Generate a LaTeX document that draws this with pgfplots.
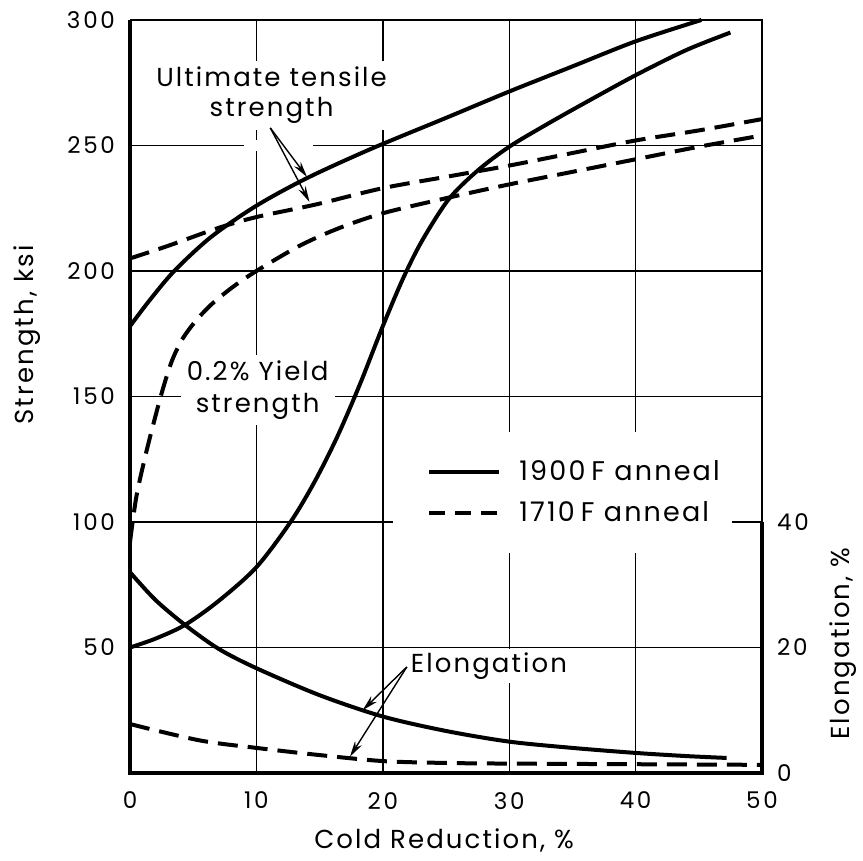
\documentclass[border=0pt]{standalone}
\usepackage{fontspec}
\setmainfont{Poppins}
\newfontfamily\tickfont[LetterSpace=12]{Poppins}
\newfontfamily\labfont[LetterSpace=8]{Poppins}
\usepackage{pgfplots}
\pgfplotsset{compat=1.18}
\usetikzlibrary{arrows.meta}
\tikzset{callout/.style={line width=0.7pt, -{Stealth[length=8pt,width=4pt]}}}

\begin{document}
\begin{tikzpicture}
\pgfplotsset{
  every axis/.append style={
    width=316pt, height=376.5pt, scale only axis,
    xmin=0, xmax=50,
    axis line style={draw=none},
    major tick length=0pt,
    /pgf/number format/assume math mode=true,
    tick label style={font=\tickfont\fontsize{11.5}{13}\selectfont},
    label style={font=\labfont\fontsize{13}{15}\selectfont},
  },
  curve/.style={line width=2pt, smooth, black},
  dashcurve/.style={curve, dash pattern=on 10pt off 5pt},
}
\begin{axis}[
    name=main,
    ymin=0, ymax=300,
    clip=false,
    xtick={0,10,...,50},
    ytick={50,100,...,300},
    grid=major,
    grid style={line width=0.7pt, black},
    xticklabel style={yshift=-6pt},
    yticklabel style={xshift=-4pt},
    xlabel={Cold Reduction, \%},
    xlabel style={at={(axis description cs:0.497,-0.089)}, anchor=center},
    ylabel={Strength, ksi},
    ylabel style={at={(axis description cs:-0.163,0.582)}, anchor=center},
    legend style={at={(axis cs:23.5,111.8)}, anchor=west, draw=none, fill=none,
      inner sep=0pt, row sep=5pt, font=\labfont\fontsize{13.5}{15}\selectfont,
      /tikz/every odd column/.append style={column sep=7pt}},
    legend cell align=left,
    legend image code/.code={\draw[#1] (0pt,0pt) -- (35pt,0pt);},
  ]
  \coordinate (sw) at (rel axis cs:0,0);
  \coordinate (ne) at (rel axis cs:1,1);

  \addlegendimage{line width=2pt}
  \addlegendentry{1900\kern3pt F anneal}
  \addlegendimage{line width=2pt, dash pattern=on 8pt off 5pt}
  \addlegendentry{1710\kern3pt F anneal}

  % white patches where the grid is broken for the text
  \fill[white] (axis cs:20.8,87.6) rectangle (axis cs:47.6,135.9);
  \fill[white] (axis cs:9,248) rectangle (axis cs:14.5,252);
  \node[fill=white, inner sep=3pt, align=center, font=\labfont\fontsize{13}{15}\selectfont]
    at (axis cs:11.2,270) {Ultimate tensile\\strength};
  \node[fill=white, inner sep=3pt, align=center, font=\labfont\fontsize{13}{16}\selectfont]
    at (axis cs:10.1,152.6) {0.2\% Yield\\strength};
  \node[fill=white, inner sep=2pt, font=\labfont\fontsize{13}{15}\selectfont]
    at (axis cs:28.4,42.6) {Elongation};

  % 1900 F ultimate tensile strength
  \addplot[curve, forget plot] coordinates {
    (0,178) (1.5,188) (3.5,200) (6.4,213.5) (10,226) (14,237) (19,248.5)
    (25,261) (30,271.5) (35,281.5) (40,291.5) (45.2,300)
  };
  % 1900 F 0.2% yield strength
  \addplot[curve, forget plot] coordinates {
    (0,50) (2,53.5) (4.35,59) (7,68.5) (10,82) (12.7,100) (14.6,116) (16.4,134)
    (18.2,155) (20,178) (21.6,197) (23.1,212) (25.2,228.5) (27.5,240)
    (30,249.5) (33,258.5) (36,267) (40,278) (44,288) (47.5,295)
  };
  % 1710 F ultimate tensile strength
  \addplot[dashcurve, forget plot] coordinates {
    (0,205) (3,210) (6.9,217) (10,221.5) (14.7,226.5) (20,233) (25,237.5) (30,242)
    (35,247) (40,252) (45,256) (50,260.5)
  };
  % 1710 F 0.2% yield strength
  \addplot[dashcurve, forget plot] coordinates {
    (0,92) (0.5,110) (1.2,126) (1.9,140) (2.6,153) (3.3,164) (4.1,172.5) (5.1,179.5)
    (6.4,186.5) (8.1,193.5) (10,200) (13.4,210) (16.5,217) (20,223) (25,229)
    (30,234.5) (35,239.5) (40,244.5) (45,249.5) (50,254)
  };

  \draw[callout] (axis cs:11.1,257) -- (axis cs:14,237.5);
  \draw[callout] (axis cs:11.1,257) -- (axis cs:14.2,227.5);

  % frame
  \draw[line width=2pt] (axis cs:0,300) -- (axis cs:0,0) -- (axis cs:50,0) -- (axis cs:50,100);
  \draw[line width=1pt] (axis cs:50,100) -- (axis cs:50,300) -- (axis cs:0,300);
\end{axis}

\begin{axis}[
    ymin=0, ymax=120,
    clip=false,
    xtick=\empty,
    ytick={0,20,40},
    yticklabel pos=right,
    yticklabel style={xshift=4pt},
    ylabel={Elongation, \%},
    ylabel style={at={(axis description cs:1.128,0.172)}, anchor=center},
  ]
  % 1900 F elongation
  \addplot[curve] coordinates {
    (0,32) (2,27.6) (4.35,23.6) (7,19.8) (10,16.7) (15,12.4) (20,9) (25,6.7)
    (30,5) (35,4) (40,3.2) (44,2.7) (47.2,2.4)
  };
  % 1710 F elongation
  \addplot[dashcurve] coordinates {
    (0,7.8) (5.5,5.2) (10,4) (14.8,2.9) (20,1.9) (25,1.6) (30,1.5) (40,1.4) (50,1.3)
  };
  \draw[callout] (axis cs:21.9,16.9) -- (axis cs:18.4,10);
  \draw[callout] (axis cs:21.9,16.9) -- (axis cs:17.4,2.6);
\end{axis}

\pgfresetboundingbox
\path ([shift={(-65pt,-43.5pt)}]sw) rectangle ([shift={(50.5pt,10pt)}]ne);
\end{tikzpicture}
\end{document}
